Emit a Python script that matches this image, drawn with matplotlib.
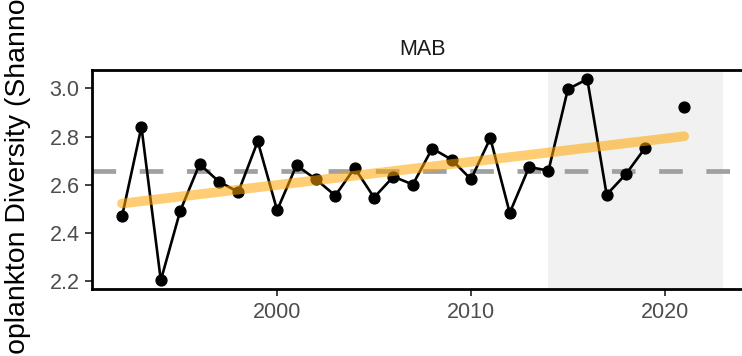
import numpy as np
import matplotlib
matplotlib.use("Agg")
import matplotlib.pyplot as plt

plt.rcParams["font.family"] = ["Liberation Sans", "DejaVu Sans"]

# --- Data ---
years = list(range(1992, 2022))
diversity = [2.468, 2.840, 2.201, 2.490, 2.685, 2.612, 2.569, 2.780, 2.493, 2.680,
             2.622, 2.554, 2.669, 2.546, 2.633, 2.600, 2.750, 2.704, 2.622, 2.793,
             2.482, 2.673, 2.658, 2.997, 3.039, 2.558, 2.644, 2.754, np.nan, 2.923]

trend_years = [1992, 2021]
trend_vals = [2.521, 2.801]

long_term_mean = 2.656
recent_start, recent_end = 2014, 2023

region = "MAB"
y_label = "Zooplankton Diversity (Shannon)"
x_ticks = [2000, 2010, 2020]
y_ticks = [2.2, 2.4, 2.6, 2.8, 3.0]

# --- Plot ---
fig = plt.figure(figsize=(7.42, 3.56), dpi=100)
ax = fig.add_axes([92 / 742, 1 - 289 / 356, (753 - 92) / 742, (289 - 70) / 356])

ax.axvspan(recent_start, recent_end, color="#F1F1F1", lw=0, zorder=0)
ax.axhline(long_term_mean, color="#A0A0A0", lw=3.4, dashes=(5, 5), zorder=1)
ax.plot(years, diversity, color="black", lw=1.9, zorder=2)
ax.plot(years, diversity, "o", color="black", ms=7.8, zorder=3)
ax.plot(trend_years, trend_vals, color="orange", alpha=0.55, lw=7,
        solid_capstyle="round", zorder=4)

ax.set_xlim(1990.45, 2024.55)
ax.set_ylim(2.165, 3.077)
ax.set_xticks(x_ticks)
ax.set_yticks(y_ticks)
ax.set_yticklabels([f"{v:.1f}" for v in y_ticks])

for side in ax.spines.values():
    side.set_linewidth(2.0)
    side.set_color("black")
ax.tick_params(axis="both", length=5, width=1.3, color="#333333",
               labelcolor="#4D4D4D", labelsize=15.5, pad=4)

ax.set_title(region, fontsize=15.5, color="#1A1A1A", pad=11)
fig.text(18 / 742, 1 - 180.5 / 356, y_label, rotation=90, ha="center",
         va="center", fontsize=20.4, color="black")

fig.savefig("out.png", dpi=100)
